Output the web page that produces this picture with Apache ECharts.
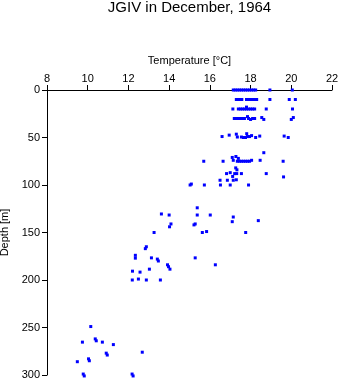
<!DOCTYPE html>
<html>
<head>
<meta charset="utf-8">
<script src="https://cdn.jsdelivr.net/npm/echarts@6/dist/echarts.min.js"></script>
<style>
html,body{margin:0;padding:0;background:#fff;}
#chart{width:341px;height:384px;}
</style>
</head>
<body>
<div id="chart"></div>
<script>
var titleText = "JGIV in December, 1964";
var xAxisName = "Temperature [°C]";
var yAxisName = "Depth [m]";
var xTicks = [8, 10, 12, 14, 16, 18, 20, 22];
var yTicks = [0, 50, 100, 150, 200, 250, 300];

var temps = [
  17.15,17.25,17.35,17.45,17.55,17.65,17.75,17.85,17.95,18.05,18.15,18.25,18.95,20.05,
  17.3,17.4,17.5,17.57,17.8,17.9,18.0,18.1,18.2,18.3,18.95,19.9,20.2,
  17.13,17.4,17.5,17.6,17.7,17.8,17.8,17.9,18.0,18.1,18.2,18.77,20.06,
  17.2,17.3,17.4,17.5,17.6,17.7,17.85,17.9,18.0,18.1,18.2,18.55,18.65,20.0,20.1,
  16.6,16.95,17.3,17.35,17.55,17.65,17.75,17.81,17.85,17.95,18.05,18.25,18.45,19.65,19.85,
  18.65,
  15.7,16.65,17.1,17.15,17.28,17.4,17.35,17.45,17.55,17.65,17.75,17.85,17.95,18.05,18.47,19.6,
  17.27,17.33,
  16.82,17.0,17.12,17.22,17.32,17.55,18.77,19.62,
  16.5,16.86,17.15,17.3,
  15.03,15.09,15.73,16.52,17.0,17.9,
  15.38,13.62,14.0,15.38,16.02,17.15,17.1,18.38,14.09,14.02,15.22,15.28,
  13.26,15.63,15.84,17.76,
  12.83,12.88,12.34,12.34,13.13,15.28,13.42,13.47,16.27,13.92,13.97,
  12.2,12.57,13.03,14.04,12.19,12.49,12.88,13.57,
  10.15,9.74,10.37,10.42,10.72,11.26,10.91,10.96,12.68,9.49,10.04,10.08,9.78,9.83,12.18,12.23
];
var depths = [
  0,0,0,0,0,0,0,0,0,0,0,0,0,0,
  10,10,10,10,10,10,10,10,10,10,10,10,10,
  20,20,20,20,20,18,20,20,20,20,20,20,20,
  30,30,30,30,30,30,28,30,31,30,30,29,31,31,29,
  49,47.5,46.5,49.5,49.5,50,50,46,49,49,48,50,48.5,48.5,50,
  66,
  75,75,71,74,70,72,75,75,75,75,75,75,75,74,74,75,
  82,84,
  88,87,91,88,88,88,88,91.5,
  95,95,95,94.5,
  100,99,100,100,100,100,
  124,130.5,131.6,131.6,131.6,133.7,138.6,137.5,141,144,142,141,
  150,150,149,150,
  167,165,174,177,176.7,176.7,178,180,184,184,186,
  190.7,191.7,188.6,188.6,200,199,200,200,
  249,265.4,262,264,265.4,268,277,279,276,286,283,285,299,301,299,301
];

var points = temps.map(function (t, i) { return [t, depths[i]]; });

var font = "'Liberation Sans', Arial, Helvetica, sans-serif";
var chart = echarts.init(document.getElementById('chart'), null, {renderer: 'canvas'});
chart.setOption({
  animation: false,
  backgroundColor: '#ffffff',
  title: {
    text: titleText,
    left: 189.5,
    top: 0,
    padding: 0,
    textAlign: 'center',
    textStyle: {fontFamily: font, fontSize: 15, fontWeight: 'normal', color: '#000'}
  },
  grid: {left: 47, top: 90, right: 9, bottom: 9, containLabel: false, outerBoundsMode: 'none'},
  xAxis: {
    type: 'value',
    position: 'top',
    min: xTicks[0],
    max: xTicks[xTicks.length - 1],
    interval: 2,
    name: xAxisName,
    nameLocation: 'middle',
    nameGap: 24,
    nameTextStyle: {fontFamily: font, fontSize: 11, color: '#000'},
    axisLine: {show: true, onZero: false, lineStyle: {color: '#000', width: 1}},
    axisTick: {show: true, inside: false, length: 5, lineStyle: {color: '#000'}},
    axisLabel: {fontFamily: font, fontSize: 11, color: '#000', margin: 6},
    splitLine: {show: false}
  },
  yAxis: {
    type: 'value',
    inverse: true,
    min: yTicks[0],
    max: yTicks[yTicks.length - 1],
    interval: 50,
    name: yAxisName,
    nameLocation: 'middle',
    nameGap: 37,
    nameRotate: 90,
    nameTextStyle: {fontFamily: font, fontSize: 11, color: '#000'},
    axisLine: {show: true, onZero: false, lineStyle: {color: '#000', width: 1}},
    axisTick: {show: true, inside: false, length: 5, lineStyle: {color: '#000'}},
    axisLabel: {fontFamily: font, fontSize: 11, color: '#000', margin: 7},
    splitLine: {show: false}
  },
  series: [{
    type: 'scatter',
    data: points,
    symbol: 'rect',
    symbolSize: 3,
    itemStyle: {color: '#0000ff', opacity: 1},
    clip: false
  }]
});
</script>
</body>
</html>
